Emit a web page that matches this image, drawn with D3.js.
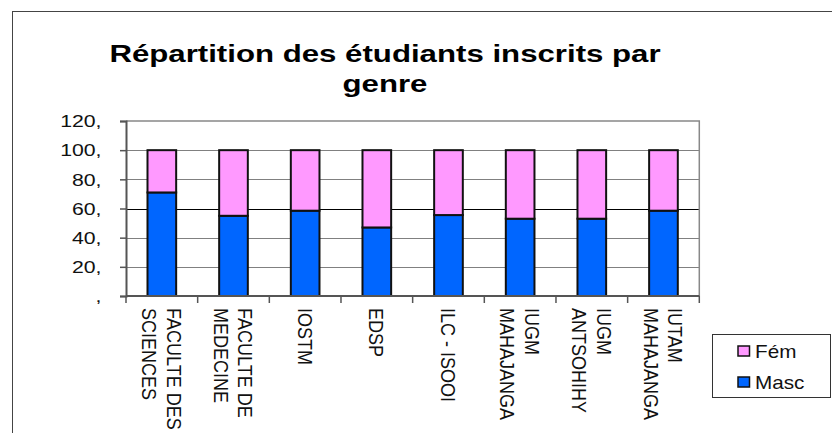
<!DOCTYPE html>
<html>
<head>
<meta charset="utf-8">
<script src="https://cdn.jsdelivr.net/npm/d3@7"></script>
<style>
  html, body { margin: 0; padding: 0; background: #fff; }
  svg { display: block; font-family: Arial, "Liberation Sans", sans-serif; }
</style>
</head>
<body>
<svg id="chart" width="832" height="433"></svg>
<script>
;(function (window, document, undefined) {

  'use strict';

  // data
  var categories = [
    ['FACULTE DES', 'SCIENCES'],
    ['FACULTE DE', 'MEDECINE'],
    ['IOSTM'],
    ['EDSP'],
    ['ILC - ISOOI'],
    ['IUGM', 'MAHAJANGA'],
    ['IUGM', 'ANTSOHIHY'],
    ['IUTAM', 'MAHAJANGA']
  ];
  var masc = [71, 55, 58.5, 47, 55.5, 53, 53, 58.5];
  var fem  = [29, 45, 41.5, 53, 44.5, 47, 47, 41.5];
  var seriesNames = ['Masc', 'Fém'];
  var seriesColors = ['#0066FF', '#FF99FF'];
  var yTicks = [0, 20, 40, 60, 80, 100, 120];
  var titleLines = ['Répartition des étudiants inscrits par', 'genre'];

  var svg = d3.select('#chart');
  var keys = categories.map(function (c) { return c.join(' '); });

  var rows = keys.map(function (k, i) {
    return { key: k, 'Masc': masc[i], 'Fém': fem[i] };
  });

  var plot = { left: 126, right: 699.3, top: 121, bottom: 296 };

  var x = d3.scaleBand()
    .domain(keys)
    .range([plot.left, plot.right])
    .paddingInner(0.6)
    .paddingOuter(0.3);

  var y = d3.scaleLinear()
    .domain([0, 120])
    .range([plot.bottom, plot.top]);

  // outer frame (runs off the right/bottom of the picture)
  svg.append('rect')
    .attr('x', 12.5).attr('y', 11.5)
    .attr('width', 900).attr('height', 500)
    .attr('fill', 'none')
    .attr('stroke', '#444')
    .attr('stroke-width', 1);

  // title
  svg.selectAll('text.title')
    .data(titleLines)
    .enter().append('text')
    .attr('class', 'title')
    .attr('transform', function (d, i) {
      return 'translate(385,' + (62 + i * 30) + ') scale(1.3,1)';
    })
    .attr('text-anchor', 'middle')
    .style('font-size', '24px')
    .style('font-weight', 'bold')
    .attr('fill', '#000')
    .text(function (d) { return d; });

  // grid lines
  svg.append('g')
    .selectAll('line')
    .data(yTicks.filter(function (t) { return t > 0 && t < 120; }))
    .enter().append('line')
    .attr('x1', plot.left).attr('x2', plot.right)
    .attr('y1', function (d) { return Math.round(y(d)) + 0.5; })
    .attr('y2', function (d) { return Math.round(y(d)) + 0.5; })
    .attr('stroke', function (d) { return d === 60 ? '#000' : '#808080'; })
    .attr('stroke-width', 1.2);

  // plot frame top / right
  svg.append('path')
    .attr('d', 'M' + plot.left + ',' + plot.top + 'H' + plot.right + 'V' + plot.bottom)
    .attr('fill', 'none')
    .attr('stroke', '#888')
    .attr('stroke-width', 1.5);

  // bars
  var stacked = d3.stack().keys(seriesNames)(rows);

  svg.append('g')
    .selectAll('g')
    .data(stacked)
    .enter().append('g')
    .attr('fill', function (d, i) { return seriesColors[i]; })
    .selectAll('rect')
    .data(function (d) { return d; })
    .enter().append('rect')
    .attr('x', function (d) { return x(d.data.key); })
    .attr('y', function (d) { return y(d[1]); })
    .attr('width', x.bandwidth())
    .attr('height', function (d) { return y(d[0]) - y(d[1]); })
    .attr('stroke', '#111')
    .attr('stroke-width', 2);

  // y axis
  var yAxis = d3.axisLeft(y)
    .tickValues(yTicks)
    .tickSize(6)
    .tickFormat(function (d) { return d ? d + ',' : ','; });

  var gy = svg.append('g')
    .attr('transform', 'translate(' + plot.left + ',0)')
    .call(yAxis);
  gy.select('.domain').attr('stroke', '#555').attr('stroke-width', 2);
  gy.selectAll('.tick line').attr('stroke', '#555').attr('stroke-width', 1.5);
  gy.selectAll('.tick text')
    .attr('x', 0).attr('dy', 0)
    .attr('transform', 'translate(-24.5,0) scale(1.25,1)')
    .attr('dominant-baseline', 'central')
    .style('font-size', '17px')
    .attr('fill', '#111');

  // x axis: ticks on the band edges
  var step = x.step();
  var edges = keys.map(function (k) { return x(k) - step * 0.3; }).concat([plot.right]);

  svg.append('line')
    .attr('x1', plot.left).attr('x2', plot.right)
    .attr('y1', plot.bottom).attr('y2', plot.bottom)
    .attr('stroke', '#555').attr('stroke-width', 2);

  svg.append('g')
    .selectAll('line')
    .data(edges)
    .enter().append('line')
    .attr('x1', function (d) { return d; }).attr('x2', function (d) { return d; })
    .attr('y1', plot.bottom).attr('y2', plot.bottom + 7)
    .attr('stroke', '#555').attr('stroke-width', 1.5);

  // x labels, rotated to read downwards
  var lineGap = 24.5;
  var xl = svg.append('g');
  categories.forEach(function (lines, i) {
    var cx = x(keys[i]) + x.bandwidth() / 2;
    lines.forEach(function (line, j) {
      var off = ((lines.length - 1) / 2 - j) * lineGap;
      xl.append('text')
        .attr('transform', 'translate(' + (cx + off) + ',308) scale(1.16,1) rotate(90)')
        .attr('dominant-baseline', 'central')
        .style('font-size', '18px')
        .attr('fill', '#111')
        .text(line);
    });
  });

  // legend
  var legend = svg.append('g');
  legend.append('rect')
    .attr('x', 712.5).attr('y', 334.5)
    .attr('width', 118).attr('height', 63)
    .attr('fill', '#fff')
    .attr('stroke', '#333')
    .attr('stroke-width', 1);

  var legendItems = [
    { name: 'Fém', color: seriesColors[1] },
    { name: 'Masc', color: seriesColors[0] }
  ];

  legendItems.forEach(function (it, i) {
    var cy = 351 + i * 31;
    legend.append('rect')
      .attr('x', 738).attr('y', cy - 5)
      .attr('width', 11.5).attr('height', 10)
      .attr('fill', it.color)
      .attr('stroke', '#111')
      .attr('stroke-width', 1.5);
    legend.append('text')
      .attr('transform', 'translate(755,' + (cy + 6.5) + ') scale(1.15,1)')
      .style('font-size', '18px')
      .attr('fill', '#111')
      .text(it.name);
  });

})(window, document);
</script>
</body>
</html>
